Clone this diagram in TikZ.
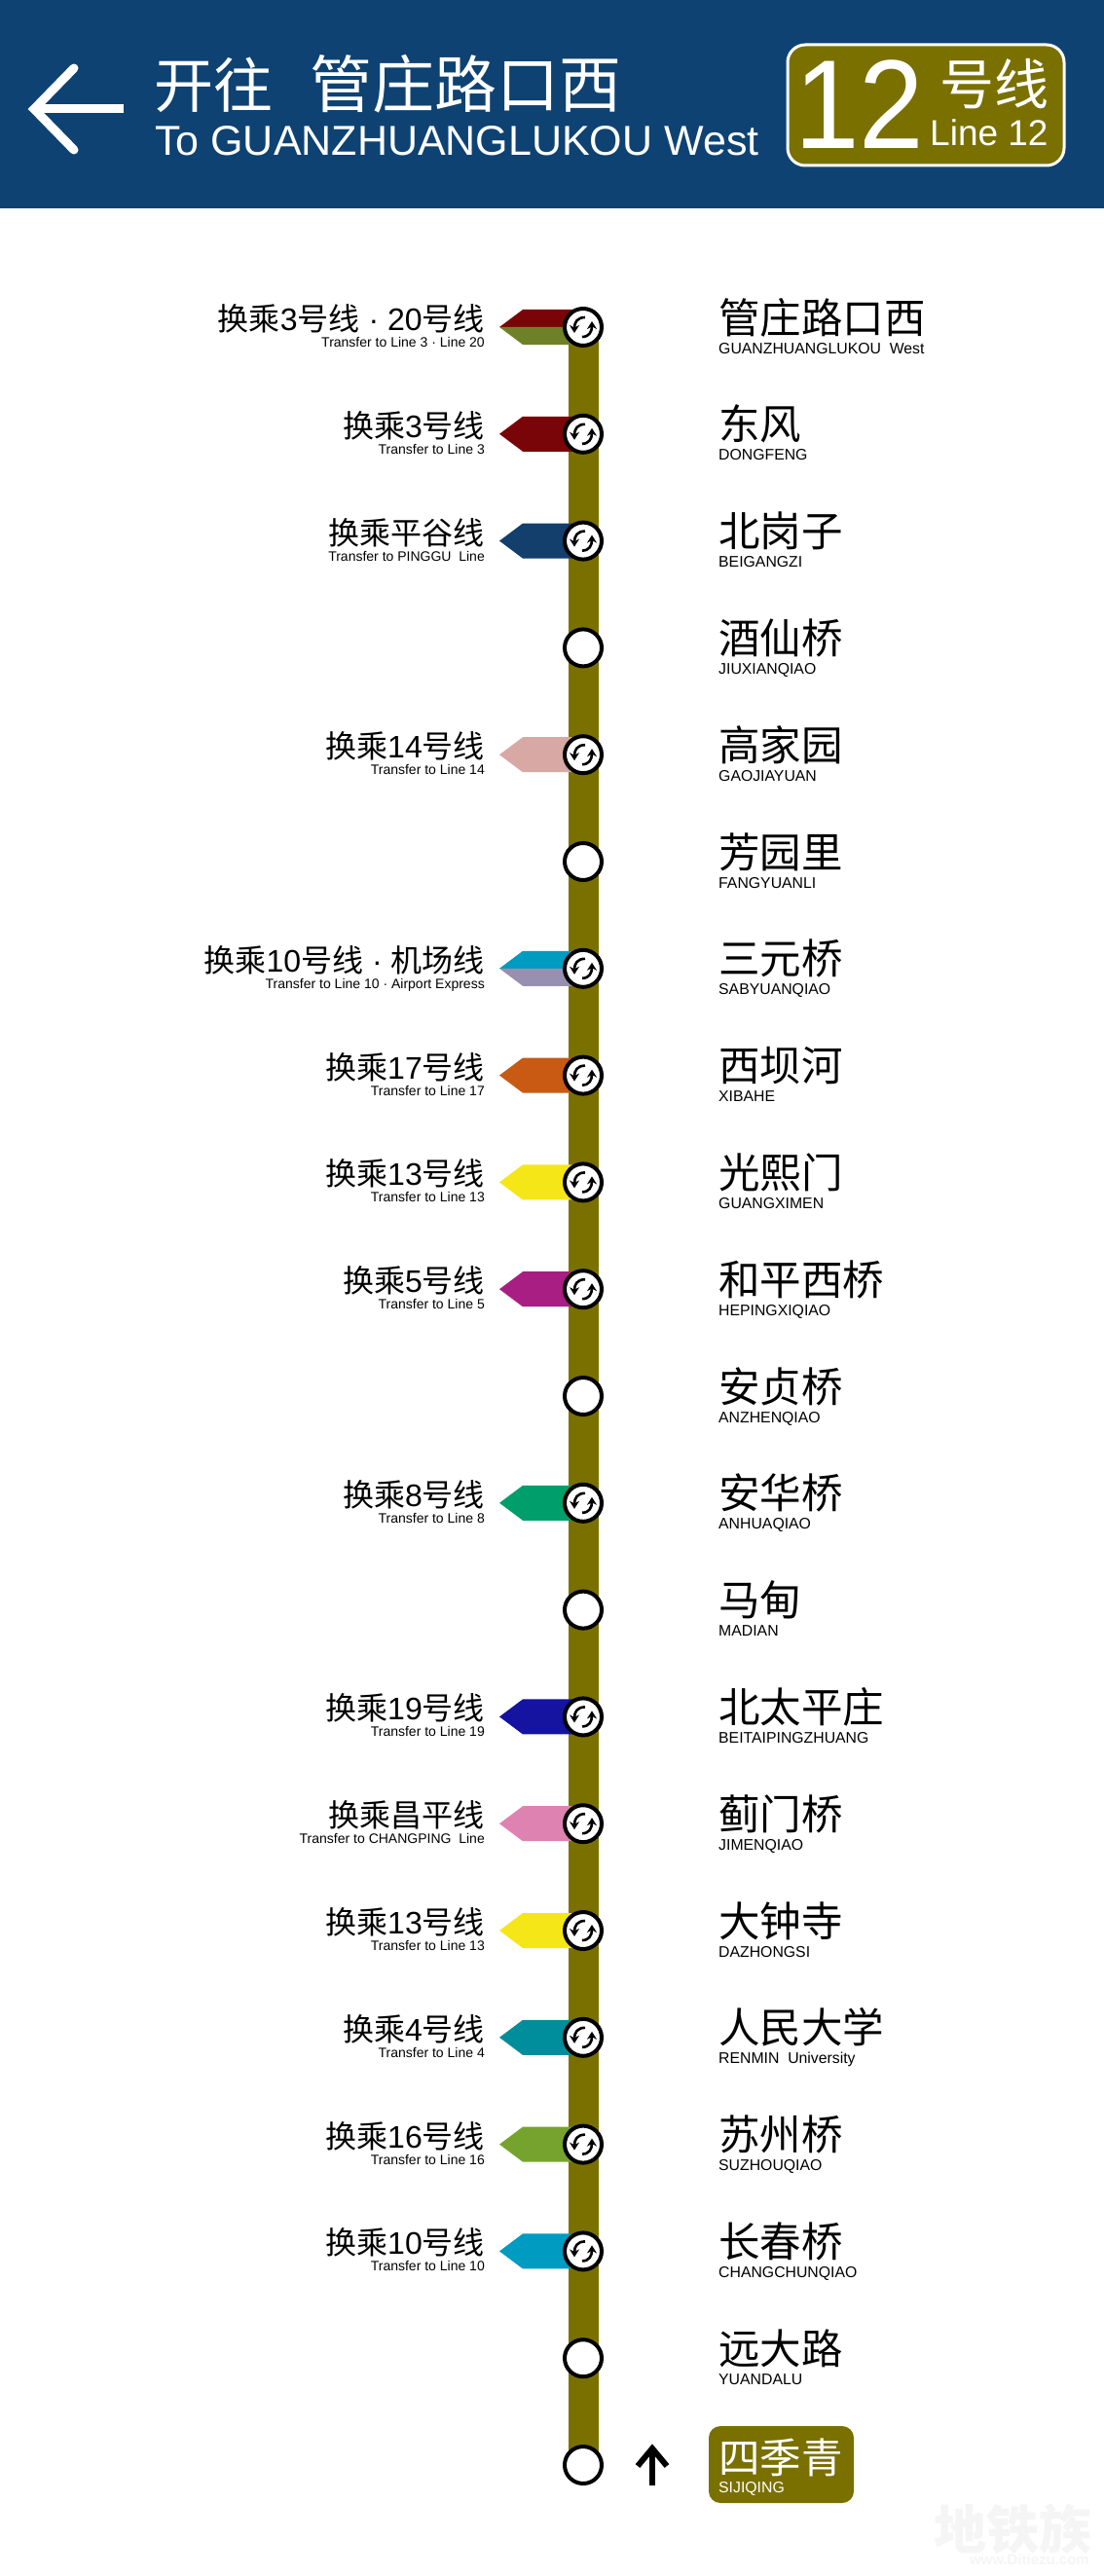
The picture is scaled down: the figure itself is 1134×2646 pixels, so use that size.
\documentclass[tikz,border=0pt]{standalone}
\usepackage{fontspec}
\setmainfont{Liberation Sans}
\newfontfamily\cjk{Noto Sans CJK SC}
\usetikzlibrary{arrows.meta,backgrounds}
\newcommand{\zh}[1]{{\cjk #1}}
\newcommand{\fs}[1]{\fontsize{#1}{#1}\selectfont}
\newcommand{\mdot}{\hspace{9pt}·\hspace{9pt}}
\definecolor{headblue}{HTML}{0E4272}
\definecolor{lineolive}{HTML}{7A7000}
\definecolor{cThree}{HTML}{7A0508}
\definecolor{cTwenty}{HTML}{6F8128}
\definecolor{cPinggu}{HTML}{123F6B}
\definecolor{cFourteen}{HTML}{D8A8A4}
\definecolor{cTen}{HTML}{009BC0}
\definecolor{cAirport}{HTML}{9890B0}
\definecolor{cSeventeen}{HTML}{C85A14}
\definecolor{cThirteen}{HTML}{F5E618}
\definecolor{cFive}{HTML}{A81E82}
\definecolor{cEight}{HTML}{009E6A}
\definecolor{cNineteen}{HTML}{1414A0}
\definecolor{cChangping}{HTML}{DE82B2}
\definecolor{cFour}{HTML}{008E9C}
\definecolor{cSixteen}{HTML}{76A32E}
\tikzset{
  stn/.style={circle,draw=black,line width=4pt,fill=white,minimum size=38pt,inner sep=0pt},
  cnname/.style={anchor=base west,inner sep=0pt,font=\cjk\fs{42.5}},
  enname/.style={anchor=base west,inner sep=0pt,font=\fs{15.8}},
  cnxfer/.style={anchor=base east,inner sep=0pt,font=\fs{32}},
  enxfer/.style={anchor=base east,inner sep=0pt,font=\fs{14}},
  xfer/.pic={
    \draw[black,line width=2.6pt,-{Stealth[length=8pt,width=10pt]}] (2,-10) .. controls (-6,-10) and (-9,-5) .. (-9,6);
    \draw[black,line width=2.6pt,-{Stealth[length=8pt,width=10pt]}] (-1,10) .. controls (6,10) and (9,5) .. (9,-6);
  }
}
\begin{document}
\begin{tikzpicture}[x=1pt,y=-1pt]
\useasboundingbox (0,0) rectangle (1134,2646);
% header
\fill[headblue] (0,0) rectangle (1134,214);
\coordinate (shaftend) at (127,112);
\coordinate (tip) at (35,112);
\coordinate (headtop) at (76,70);
\coordinate (headbot) at (76,154);
\draw[white,line width=9pt] (shaftend) -- (tip);
\draw[white,line width=9pt,line cap=round,line join=miter] (headtop) -- (tip) -- (headbot);
\node[anchor=base west,inner sep=0pt,text=white,font=\cjk\fs{61}] (hcn) at (158,111) {开往};
\node[anchor=base west,inner sep=0pt,text=white,font=\cjk\fs{64}] (hcn2) at (318,111) {管庄路口西};
\node[anchor=base west,inner sep=0pt,text=white,font=\fs{43}] (hen) at (159,160) {To GUANZHUANGLUKOU West};
\node[draw=white,line width=3pt,fill=lineolive,rounded corners=18pt,minimum width=284pt,minimum height=124pt,inner sep=0pt] (badge) at (951,108) {};
\node[anchor=base west,inner sep=0pt,text=white,font=\fs{130},xscale=.92] (bnum) at (816,153) {12};
\node[anchor=base west,inner sep=0pt,text=white,font=\cjk\fs{56}] (bcn) at (965,108) {号线};
\node[anchor=base west,inner sep=0pt,text=white,font=\fs{37}] (ben) at (955,150) {Line 12};
% stations
\foreach \i/\cn/\en in {
 0/管庄路口西/GUANZHUANGLUKOU\ \ West,
 1/东风/DONGFENG,
 2/北岗子/BEIGANGZI,
 3/酒仙桥/JIUXIANQIAO,
 4/高家园/GAOJIAYUAN,
 5/芳园里/FANGYUANLI,
 6/三元桥/SABYUANQIAO,
 7/西坝河/XIBAHE,
 8/光熙门/GUANGXIMEN,
 9/和平西桥/HEPINGXIQIAO,
 10/安贞桥/ANZHENQIAO,
 11/安华桥/ANHUAQIAO,
 12/马甸/MADIAN,
 13/北太平庄/BEITAIPINGZHUANG,
 14/蓟门桥/JIMENQIAO,
 15/大钟寺/DAZHONGSI,
 16/人民大学/RENMIN\ \ University,
 17/苏州桥/SUZHOUQIAO,
 18/长春桥/CHANGCHUNQIAO,
 19/远大路/YUANDALU}{
  \pgfmathsetmacro{\yy}{336+\i*109.8}
  \node[stn] (s\i) at (599,\yy) {};
  \node[cnname] (cn\i) at (738,\yy+6) {\cn};
  \node[enname] (en\i) at (738,\yy+27) {\en};
}
\node[stn] (s20) at (599,2532) {};
\begin{scope}[on background layer]
  \fill[white] (0,214) rectangle (1134,2646);
  \draw[lineolive,line width=31pt] (s0.center) -- (s20.center);
\end{scope}
% terminal box
\node[fill=lineolive,rounded corners=12pt,minimum width=149pt,minimum height=79pt,inner sep=0pt] (termbox) at (802.5,2531.5) {};
\node[cnname,text=white] (cn20) at (738,2540) {四季青};
\node[enname,text=white] (en20) at (738,2560) {SIJIQING};
\coordinate (uptail) at (670,2553);
\coordinate (uptip) at (670,2515);
\coordinate (upl) at (655,2533);
\coordinate (upr) at (685,2533);
\draw[black,line width=6pt] (uptail) -- (uptip);
\draw[black,line width=6pt,line join=miter] (upl) -- (uptip) -- (upr);
% single transfer flags
\begin{scope}[on background layer]
\foreach \i/\col in {1/cThree,2/cPinggu,4/cFourteen,7/cSeventeen,8/cThirteen,9/cFive,11/cEight,13/cNineteen,14/cChangping,15/cThirteen,16/cFour,17/cSixteen,18/cTen}{
  \fill[\col] (s\i.center) ++(-86,0) -- ++(24,-18) -- ++(62,0) -- ++(0,36) -- ++(-62,0) -- cycle;
}
\foreach \i/\cola/\colb in {0/cThree/cTwenty,6/cTen/cAirport}{
  \fill[\cola] (s\i.center) ++(-86,0) -- ++(24,-18) -- ++(62,0) -- ++(0,18) -- cycle;
  \fill[\colb] (s\i.center) ++(-86,0) -- ++(24,18) -- ++(62,0) -- ++(0,-18) -- cycle;
}
\end{scope}
\foreach \i in {0,1,2,4,6,7,8,9,11,13,14,15,16,17,18}{
  \path (s\i.center) pic {xfer};
}
% transfer labels
\foreach \i/\cn/\en in {
 0/{\zh{换乘}3\zh{号线}\mdot 20\zh{号线}}/{Transfer to Line 3 · Line 20},
 1/{\zh{换乘}3\zh{号线}}/{Transfer to Line 3},
 2/{\zh{换乘平谷线}}/{Transfer to PINGGU\ \ Line},
 4/{\zh{换乘}14\zh{号线}}/{Transfer to Line 14},
 6/{\zh{换乘}10\zh{号线}\mdot\zh{机场线}}/{Transfer to Line 10 · Airport Express},
 7/{\zh{换乘}17\zh{号线}}/{Transfer to Line 17},
 8/{\zh{换乘}13\zh{号线}}/{Transfer to Line 13},
 9/{\zh{换乘}5\zh{号线}}/{Transfer to Line 5},
 11/{\zh{换乘}8\zh{号线}}/{Transfer to Line 8},
 13/{\zh{换乘}19\zh{号线}}/{Transfer to Line 19},
 14/{\zh{换乘昌平线}}/{Transfer to CHANGPING\ \ Line},
 15/{\zh{换乘}13\zh{号线}}/{Transfer to Line 13},
 16/{\zh{换乘}4\zh{号线}}/{Transfer to Line 4},
 17/{\zh{换乘}16\zh{号线}}/{Transfer to Line 16},
 18/{\zh{换乘}10\zh{号线}}/{Transfer to Line 10}}{
  \pgfmathsetmacro{\yy}{336+\i*109.8}
  \node[cnxfer] (tc\i) at (498,\yy+3.5) {\cn};
  \node[enxfer] (te\i) at (498,\yy+20.5) {\en};
}
% watermark
\node[anchor=base east,inner sep=0pt,text=black!4,font=\cjk\bfseries\fs{54}] (wm1) at (1122,2618) {地铁族};
\node[anchor=base east,inner sep=0pt,text=black!4,font=\bfseries\fs{15}] (wm2) at (1119,2634) {www.Ditiezu.com};
\end{tikzpicture}
\end{document}
